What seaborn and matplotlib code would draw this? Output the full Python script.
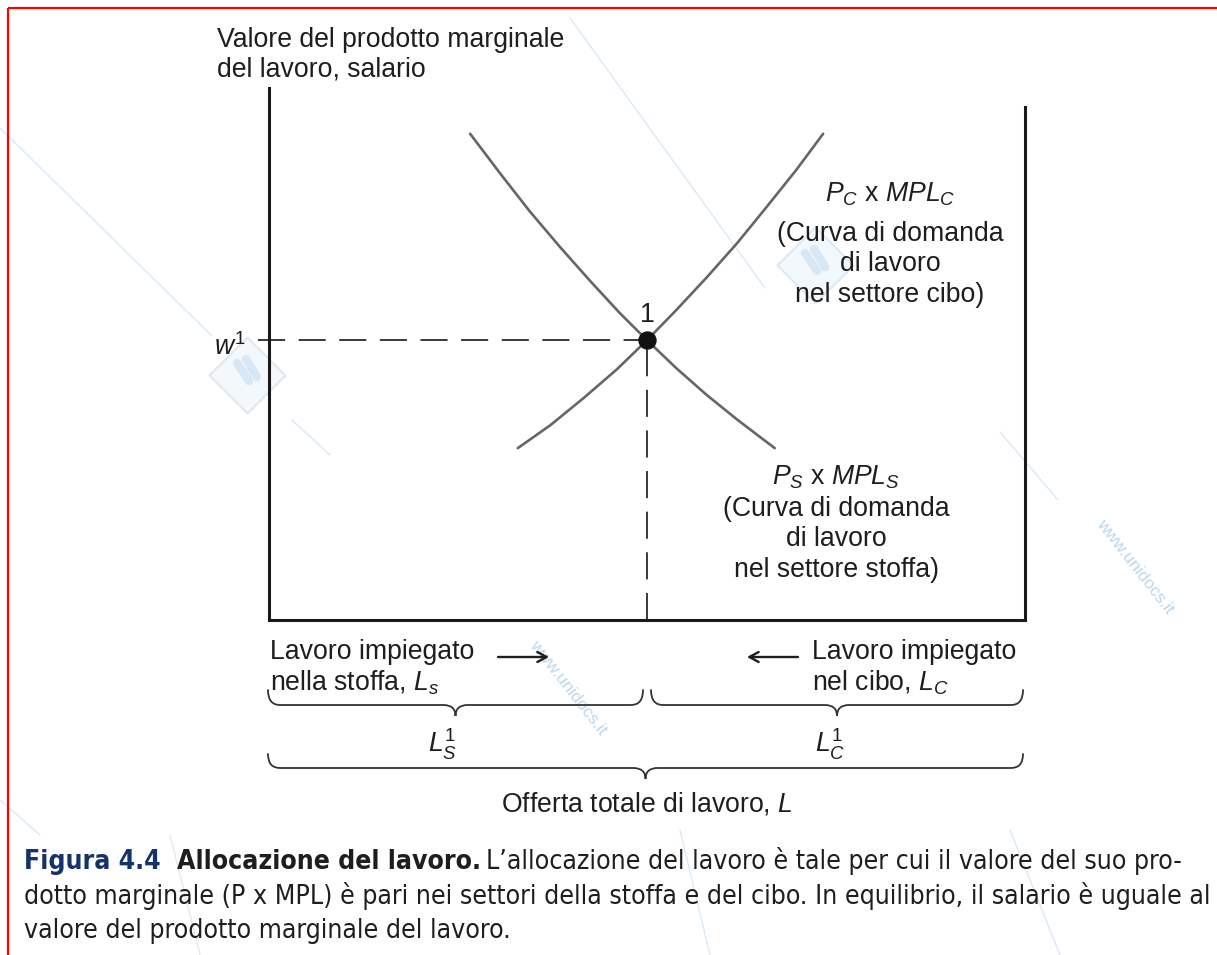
import numpy as np
import pandas as pd
import matplotlib
matplotlib.use("Agg")
import matplotlib.pyplot as plt
import seaborn as sns
from matplotlib import font_manager
from matplotlib.path import Path
from matplotlib.patches import PathPatch

# ---------------- data (L = labour, V = value of marginal product) ----------
L_cloth = [26.6, 30.6, 34.5, 38.5, 42.5, 46.4, 50.0, 53.9, 57.9, 61.9, 66.9]
V_cloth = [91.4, 83.9, 76.8, 70.1, 63.7, 57.7, 52.6, 47.3, 42.3, 37.7, 32.3]
L_food = [32.9, 37.2, 41.6, 46.0, 50.0, 53.9, 57.9, 61.9, 65.8, 69.8, 73.3]
V_food = [32.3, 36.6, 41.7, 47.1, 52.6, 58.3, 64.4, 70.8, 77.6, 84.7, 91.4]
L_S1 = 50.0          # equilibrium labour in cloth (from left)
W1 = 52.6            # equilibrium wage
L_TOTAL = 100.0      # total labour supply
V_LEFT_TOP = 100.0
V_RIGHT_TOP = 96.4

W_PX, H_PX = 1217, 955

# ---------------- style ----------------
sns.set_theme(style="white")
plt.rcParams['font.family'] = ['Liberation Sans', 'DejaVu Sans']
plt.rcParams['mathtext.fontset'] = 'custom'
plt.rcParams['mathtext.rm'] = 'Liberation Sans'
plt.rcParams['mathtext.it'] = 'Liberation Sans:italic'
plt.rcParams['mathtext.bf'] = 'Liberation Sans:bold'


def font_path(family, stretch='normal'):
    try:
        return font_manager.findfont(font_manager.FontProperties(family=family, stretch=stretch),
                                     fallback_to_default=False)
    except Exception:
        return ''


CAP_FONT, CAP_STRETCH = 'Liberation Sans', 'normal'
for fam, st in [('Liberation Sans Narrow', 'normal'), ('DejaVu Sans', 'condensed'),
                ('Open Sans', 'condensed'), ('Roboto', 'condensed')]:
    p = font_path(fam, st)
    if p and (st == 'normal' or 'ondensed' in p or 'arrow' in p):
        CAP_FONT, CAP_STRETCH = fam, st
        break

fig = plt.figure(figsize=(W_PX / 100, H_PX / 100), dpi=100)
fig.patch.set_facecolor('white')

# overlay axes in pixel units (annotations, braces, caption)
ov = fig.add_axes([0, 0, 1, 1], zorder=0)
ov.set_xlim(0, W_PX)
ov.set_ylim(H_PX, 0)
ov.axis('off')
ov.patch.set_alpha(0)

# main diagram axes
x0p, x1p, ytop, ybot = 269, 1025, 88, 620
ax = fig.add_axes([x0p / W_PX, 1 - ybot / H_PX, (x1p - x0p) / W_PX, (ybot - ytop) / H_PX], zorder=2)
ax.set_xlim(0, L_TOTAL)
ax.set_ylim(0, V_LEFT_TOP)
ax.patch.set_alpha(0)
ax.set_xticks([])
ax.set_yticks([])
ax.spines['top'].set_visible(False)
for s in ['left', 'right', 'bottom']:
    ax.spines[s].set_linewidth(2.2)
    ax.spines[s].set_color('#1a1a1a')
    ax.spines[s].set_capstyle('projecting')
ax.spines['left'].set_bounds(0, V_LEFT_TOP)
ax.spines['right'].set_bounds(0, V_RIGHT_TOP)
ax.spines['bottom'].set_bounds(0, L_TOTAL)

df_cloth = pd.DataFrame({'L': L_cloth, 'V': V_cloth})
df_food = pd.DataFrame({'L': L_food, 'V': V_food})
curve_col = '#666666'
sns.lineplot(data=df_cloth, x='L', y='V', ax=ax, color=curve_col, lw=1.9, sort=False, estimator=None)
sns.lineplot(data=df_food, x='L', y='V', ax=ax, color=curve_col, lw=1.9, sort=False, estimator=None)
for ln in ax.lines:
    ln.set_solid_joinstyle('round')

dash = (0, (15, 7.5))
ax.plot([-1.4, L_S1], [W1, W1], color='#2a2a2a', lw=1.3, linestyle=dash, clip_on=False)
ax.plot([L_S1, L_S1], [0, W1], color='#2a2a2a', lw=1.3, linestyle=dash, clip_on=False)
sns.scatterplot(x=[L_S1], y=[W1], ax=ax, s=150, color='#111111', edgecolor='#111111', zorder=5)
ax.set_xlabel('')
ax.set_ylabel('')

# ---------------- texts ----------------
FS = 19.2
tc = '#1e1e1e'
ov.text(217, 47, 'Valore del prodotto marginale', fontsize=FS, color=tc, ha='left', va='baseline')
ov.text(217, 76, 'del lavoro, salario', fontsize=FS, color=tc, ha='left', va='baseline')

ov.text(214, 355, r'$w^1$', fontsize=FS, color=tc, ha='left', va='baseline')
ov.text(647, 322, '1', fontsize=FS, color=tc, ha='center', va='baseline')

for y, t in [(201, r'$P_C$ x $MPL_C$'), (241, '(Curva di domanda'),
             (271, 'di lavoro'), (302, 'nel settore cibo)')]:
    ov.text(890, y, t, fontsize=FS, color=tc, ha='center', va='baseline')
for y, t in [(484, r'$P_S$ x $MPL_S$'), (516, '(Curva di domanda'),
             (546, 'di lavoro'), (577, 'nel settore stoffa)')]:
    ov.text(836, y, t, fontsize=FS, color=tc, ha='center', va='baseline')

ov.text(270, 659, 'Lavoro impiegato', fontsize=FS, color=tc, ha='left', va='baseline')
ov.text(270, 690, r'nella stoffa, $L_s$', fontsize=FS, color=tc, ha='left', va='baseline')
ov.text(812, 659, 'Lavoro impiegato', fontsize=FS, color=tc, ha='left', va='baseline')
ov.text(812, 690, r'nel cibo, $L_C$', fontsize=FS, color=tc, ha='left', va='baseline')

arrow_kw = dict(arrowstyle='->,head_length=0.55,head_width=0.3', lw=1.7, color='#1e1e1e',
                shrinkA=0, shrinkB=0)
ov.annotate('', xy=(549, 657), xytext=(498, 657), arrowprops=arrow_kw)
ov.annotate('', xy=(747, 657), xytext=(798, 657), arrowprops=arrow_kw)

ov.text(443, 752, r'$L_S^1$', fontsize=FS, color=tc, ha='center', va='baseline')
ov.text(830, 752, r'$L_C^1$', fontsize=FS, color=tc, ha='center', va='baseline')
ov.text(647, 811, r'Offerta totale di lavoro, $L$', fontsize=FS, color=tc, ha='center', va='baseline')


def brace(xa, xb, y_end, y_line, y_tip, r=12, color='#333333', lw=1.3):
    xm = (xa + xb) / 2
    verts = [(xa, y_end), (xa, y_line), (xa + r, y_line),
             (xm - r, y_line),
             (xm, y_line), (xm, y_tip),
             (xm, y_line), (xm + r, y_line),
             (xb - r, y_line),
             (xb, y_line), (xb, y_end)]
    codes = [Path.MOVETO, Path.CURVE3, Path.CURVE3,
             Path.LINETO,
             Path.CURVE3, Path.CURVE3,
             Path.CURVE3, Path.CURVE3,
             Path.LINETO,
             Path.CURVE3, Path.CURVE3]
    ov.add_patch(PathPatch(Path(verts, codes), fill=False, edgecolor=color, lw=lw, capstyle='round'))


brace(268, 643, 690, 705, 716)
brace(651, 1023, 690, 705, 716)
brace(268, 1023, 754, 768, 779)

# ---------------- watermark (faint) ----------------
wm = '#dbe9f6'
for (xa, ya, xb, yb) in [(0, 128, 212, 336), (292, 420, 330, 455),
                         (570, 18, 765, 288), (1000, 432, 1058, 500),
                         (0, 800, 40, 835), (170, 835, 200, 955),
                         (680, 830, 710, 955), (1010, 830, 1060, 955)]:
    ov.plot([xa, xb], [ya, yb], color=wm, lw=1.0, zorder=0)
for (cx, cy) in [(247, 375), (815, 265)]:
    ov.scatter([cx], [cy], marker='D', s=1500, facecolor='#f3f8fd', edgecolor='#dce9f6',
               lw=1.5, zorder=0)
    ov.plot([cx - 10, cx + 2], [cy - 12, cy + 6], color='#d6e7f5', lw=6, solid_capstyle='round', zorder=0)
    ov.plot([cx - 1, cx + 10], [cy - 16, cy + 2], color='#d6e7f5', lw=6, solid_capstyle='round', zorder=0)
ov.text(1135, 567, 'www.unidocs.it', fontsize=12.5, color='#bcd7ee', rotation=-52,
        ha='center', va='center', zorder=0)
ov.text(568, 688, 'www.unidocs.it', fontsize=12.5, color='#bcd7ee', rotation=-52,
        ha='center', va='center', zorder=0)

# ---------------- red frame ----------------
ov.plot([8, W_PX], [8, 8], color='#ff0000', lw=1.6, solid_capstyle='butt')
ov.plot([8, 8], [8, H_PX], color='#ff0000', lw=1.6, solid_capstyle='butt')

# ---------------- caption ----------------
CAP_FS = 20.0
navy = '#15336b'
cap_kw = dict(family=[CAP_FONT, 'DejaVu Sans'], fontstretch=CAP_STRETCH, ha='left', va='baseline')
fig.canvas.draw()
rend = fig.canvas.get_renderer()

line2 = ('dotto marginale (P x MPL) è pari nei settori della stoffa e del cibo. '
         'In equilibrio, il salario è uguale al')
t_l2 = ov.text(24, 904, line2, fontsize=CAP_FS, color=tc, **cap_kw)
wl2 = t_l2.get_window_extent(renderer=rend).width
CAP_FS = CAP_FS * 1188.0 / wl2
t_l2.set_fontsize(CAP_FS)
ov.text(24, 938, 'valore del prodotto marginale del lavoro.', fontsize=CAP_FS, color=tc, **cap_kw)

t1 = ov.text(24, 869, 'Figura 4.4', fontsize=CAP_FS, fontweight='bold', color=navy, **cap_kw)
fig.canvas.draw()
xa = 24 + t1.get_window_extent(renderer=rend).width + 16
t2 = ov.text(xa, 869, 'Allocazione del lavoro.', fontsize=CAP_FS, fontweight='bold', color=tc, **cap_kw)
fig.canvas.draw()
xb = xa + t2.get_window_extent(renderer=rend).width + 5
ov.text(xb, 869, 'L\u2019allocazione del lavoro è tale per cui il valore del suo pro-',
        fontsize=CAP_FS, color=tc, **cap_kw)

fig.savefig('out.png', dpi=100)
